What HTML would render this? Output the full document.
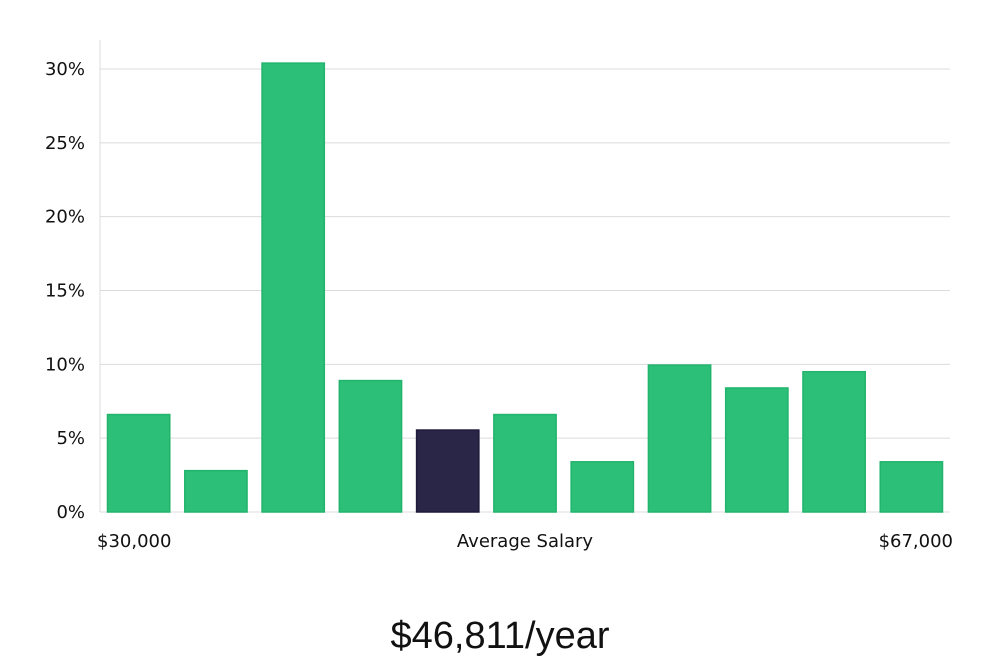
<!DOCTYPE html>
<html><head><meta charset="utf-8"><style>
body{margin:0;background:#fff;width:1000px;height:660px;overflow:hidden;font-family:"DejaVu Sans","Liberation Sans",sans-serif;}
svg{display:block}
</style></head><body>
<svg id="chart" width="1000" height="660" xmlns="http://www.w3.org/2000/svg">
<g id="grid"></g>
<g id="yaxis"></g>
<g id="bars"></g>
<text x="97" y="547" font-size="18" fill="#111">$30,000</text>
<text x="525" y="547" font-size="18" fill="#111" text-anchor="middle">Average Salary</text>
<text x="953" y="547" font-size="18" fill="#111" text-anchor="end">$67,000</text>
<text x="500" y="648" font-size="38" fill="#111" text-anchor="middle" font-family="'Liberation Sans',sans-serif" font-weight="300">$46,811/year</text>
</svg>
<script>
const values=[6.6,2.8,30.4,8.9,5.55,6.6,3.4,9.95,8.4,9.5,3.4];
const highlight=[false,false,false,false,true,false,false,false,false,false,false];
const yTicks=[0,5,10,15,20,25,30];
const yTickLabels=["0%","5%","10%","15%","20%","25%","30%"];
const NS="http://www.w3.org/2000/svg";
const x0=100,x1=950,y0=512,yTop=69,maxV=30;
const y=v=>y0-(v/maxV)*(y0-yTop);
const band=(x1-x0)/values.length;
const grid=document.getElementById('grid'),ya=document.getElementById('yaxis'),bars=document.getElementById('bars');
yTicks.forEach((t,i)=>{
  const l=document.createElementNS(NS,'line');
  
  
  l.setAttribute('x1',x0);l.setAttribute('x2',x1);l.setAttribute('y1',y(t));l.setAttribute('y2',y(t));
  l.setAttribute('stroke','#dcdcdc');l.setAttribute('stroke-width','1');
  grid.appendChild(l);
  const tx=document.createElementNS(NS,'text');
  
  
  tx.setAttribute('x',85);tx.setAttribute('y',y(t)+6);tx.setAttribute('text-anchor','end');
  tx.setAttribute('font-size','18');tx.setAttribute('fill','#111');
  tx.textContent=yTickLabels[i];
  ya.appendChild(tx);
});
const ax=document.createElementNS(NS,'line');


ax.setAttribute('x1',x0);ax.setAttribute('x2',x0);ax.setAttribute('y1',40);ax.setAttribute('y2',y0);
ax.setAttribute('stroke','#dcdcdc');
ya.appendChild(ax);
values.forEach((v,i)=>{
  const r=document.createElementNS(NS,'rect');
  
  
  r.setAttribute('x',x0+i*band+7.5);r.setAttribute('width',band-15);
  r.setAttribute('y',y(v));r.setAttribute('height',y0-y(v));
  r.setAttribute('fill',highlight[i]?'#2a2648':'#2bbf78');
  r.setAttribute('stroke',highlight[i]?'#1e1a3a':'#22b46c');r.setAttribute('stroke-width','1.5');
  bars.appendChild(r);
});
</script>
</body></html>
